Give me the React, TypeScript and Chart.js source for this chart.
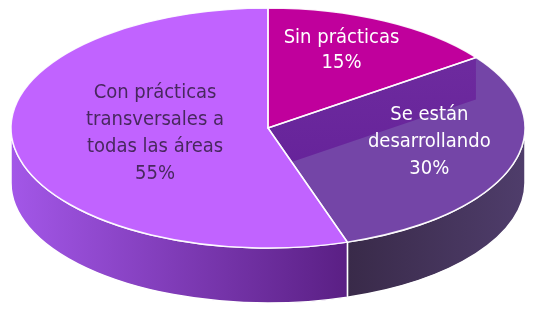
import React, { useEffect, useRef } from "react";
import { Chart, registerables } from "chart.js";
Chart.register(...registerables);

// ---- data ----
const categories = ["Sin prácticas", "Se están desarrollando", "Con prácticas transversales a todas las áreas"];
const values = [15, 30, 55];
const labelLines = [
  ["Sin prácticas"],
  ["Se están", "desarrollando"],
  ["Con prácticas", "transversales a", "todas las áreas"],
];

// ---- style ----
const topColors = ["#C0009C", "#7445A7", "#C163FF"];
const wallColors = [
  ["#7a0066", "#5a004a"],
  ["#392a49", "#4f3d6b"],
  ["#a357e8", "#5a1f84"],
];
const textColors = ["#FFFFFF", "#FFFFFF", "#48285E"];
const GEO = { cx: 268, cy: 128, rx: 257, ry: 120, depth: 55, cut: 42 };
const LABEL_F = [
  [0.63, 0.73],
  [0.66, 0.38],
  [0.445, 0.28],
];
const LINE_H = [25, 27, 27];
const FONT = '20px "DejaVu Sans Condensed", "DejaVu Sans", sans-serif';

function pt(a: number, dy = 0): [number, number] {
  return [GEO.cx + GEO.rx * Math.cos(a), GEO.cy + GEO.ry * Math.sin(a) + dy];
}

const pie3d = {
  id: "pie3d",
  beforeDatasetsDraw(chart: any) {
    const ctx: CanvasRenderingContext2D = chart.ctx;
    const arcs = chart.getDatasetMeta(0).data;
    if (!arcs.length) return;
    const { cx, cy, rx, ry, depth } = GEO;
    arcs.forEach((arc: any, i: number) => {
      for (const shift of [0, 2 * Math.PI, -2 * Math.PI]) {
        const a1 = Math.max(arc.startAngle + shift, 0);
        const a2 = Math.min(arc.endAngle + shift, Math.PI);
        if (a2 <= a1) continue;
        const p1 = pt(a1);
        const p2 = pt(a2);
        ctx.save();
        ctx.beginPath();
        ctx.moveTo(p1[0], p1[1]);
        ctx.ellipse(cx, cy, rx, ry, 0, a1, a2);
        ctx.lineTo(p2[0], p2[1] + depth);
        ctx.ellipse(cx, cy + depth, rx, ry, 0, a2, a1, true);
        ctx.closePath();
        const xl = Math.min(p1[0], p2[0]);
        const xr = Math.max(p1[0], p2[0]);
        const g = ctx.createLinearGradient(xl, 0, xr, 0);
        g.addColorStop(0, wallColors[i][0]);
        g.addColorStop(1, wallColors[i][1]);
        ctx.fillStyle = g;
        ctx.fill();
        ctx.strokeStyle = "#ffffff";
        ctx.lineWidth = 1.5;
        ctx.stroke();
        ctx.restore();
      }
    });
    const a0 = arcs[0];
    const r = a0.outerRadius;
    ctx.save();
    ctx.translate(cx, cy);
    ctx.scale(rx / r, ry / r);
    ctx.translate(-a0.x, -a0.y);
  },
  afterDatasetsDraw(chart: any) {
    const ctx: CanvasRenderingContext2D = chart.ctx;
    ctx.restore();
    const arcs = chart.getDatasetMeta(0).data;
    if (!arcs.length) return;
    const { cx, cy, rx, ry, cut } = GEO;
    // inner cut face visible between slice 0 and slice 1
    const s1 = arcs[1];
    ctx.save();
    ctx.beginPath();
    ctx.moveTo(cx, cy);
    ctx.ellipse(cx, cy, rx, ry, 0, s1.startAngle, s1.endAngle);
    ctx.closePath();
    ctx.clip();
    const P = pt(s1.startAngle);
    ctx.beginPath();
    ctx.moveTo(cx, cy);
    ctx.lineTo(P[0], P[1]);
    ctx.lineTo(P[0], P[1] + cut);
    ctx.lineTo(cx, cy + cut);
    ctx.closePath();
    const gq = ctx.createLinearGradient(0, cy - 60, 0, cy + cut);
    gq.addColorStop(0, "#6d2a9e");
    gq.addColorStop(1, "#66239a");
    ctx.fillStyle = gq;
    ctx.fill();
    ctx.restore();
    // outlines
    arcs.forEach((arc: any) => {
      const p = pt(arc.startAngle);
      ctx.beginPath();
      ctx.moveTo(cx, cy);
      ctx.lineTo(p[0], p[1]);
      ctx.ellipse(cx, cy, rx, ry, 0, arc.startAngle, arc.endAngle);
      ctx.closePath();
      ctx.strokeStyle = "rgba(255,255,255,0.9)";
      ctx.lineWidth = 1.5;
      ctx.stroke();
    });
    // labels
    ctx.save();
    ctx.font = FONT;
    ctx.textAlign = "center";
    ctx.textBaseline = "middle";
    arcs.forEach((arc: any, i: number) => {
      const mid = (arc.startAngle + arc.endAngle) / 2;
      const x = cx + rx * Math.cos(mid) * LABEL_F[i][0];
      const y = cy + ry * Math.sin(mid) * LABEL_F[i][1];
      const lines = [...labelLines[i], `${values[i]}%`];
      const h = LINE_H[i];
      const top = y - ((lines.length - 1) * h) / 2;
      ctx.fillStyle = textColors[i];
      lines.forEach((t, k) => ctx.fillText(t, x, top + k * h));
    });
    ctx.restore();
  },
};

export default function App() {
  const ref = useRef<HTMLCanvasElement | null>(null);
  useEffect(() => {
    if (!ref.current) return;
    const chart = new Chart(ref.current, {
      type: "pie",
      data: {
        labels: categories,
        datasets: [
          {
            data: values,
            backgroundColor: topColors,
            borderWidth: 0,
            hoverOffset: 0,
            clip: false as any,
          },
        ],
      },
      options: {
        animation: false,
        responsive: true,
        maintainAspectRatio: false,
        layout: { padding: 0 },
        events: [],
        plugins: { legend: { display: false }, tooltip: { enabled: false } },
      },
      plugins: [pie3d as any],
    });
    return () => chart.destroy();
  }, []);
  return (
    <div style={{ position: "fixed", left: 0, top: 0, width: 535, height: 312, background: "#fff" }}>
      <canvas ref={ref} />
    </div>
  );
}
